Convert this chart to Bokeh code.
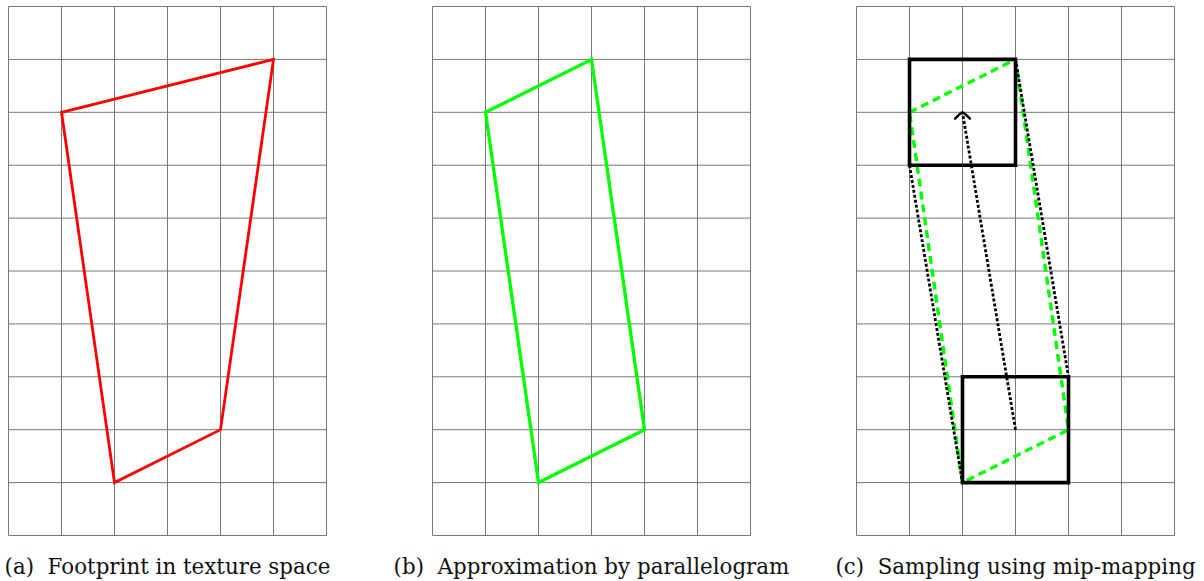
from bokeh.plotting import figure
from bokeh.models import Range1d
from bokeh.core.properties import value
from bokeh.embed import file_html
from bokeh.resources import INLINE

# ---- data (grid units: 6 columns x 10 rows per panel) ----
n_cols = 6
n_rows = 10
panel_offsets = [0, 8, 16]

captions = ["(a)\u00a0\u00a0Footprint in texture space",
            "(b)\u00a0\u00a0Approximation by parallelogram",
            "(c)\u00a0\u00a0Sampling using mip-mapping"]

footprint_x = [1, 5, 4, 2]
footprint_y = [8, 9, 2, 1]

para_x = [1, 3, 4, 2]
para_y = [8, 9, 2, 1]

mip_left = [1, 2]
mip_right = [3, 4]
mip_bottom = [7, 1]
mip_top = [9, 3]

dotted_x = [[1, 2], [3, 4]]
dotted_y = [[7, 1], [9, 3]]

axis_start = (3, 2)
axis_end = (2, 8)

# ---- figure ----
cell_px = 53.0
cell_py = 52.9
W, H = 1204, 581
x0_px, y0_px = 8, 535   # pixel of grid origin (0,0) of first panel

p = figure(width=W, height=H, output_backend="svg", toolbar_location=None,
           x_range=Range1d(-x0_px / cell_px, (W - x0_px) / cell_px),
           y_range=Range1d((y0_px - H) / cell_py, y0_px / cell_py),
           min_border=0, min_border_left=0, min_border_right=0,
           min_border_top=0, min_border_bottom=0)
p.axis.visible = False
p.grid.visible = False
p.outline_line_color = None
p.background_fill_color = "white"
p.border_fill_color = "white"

grid_color = "#777777"
for off in panel_offsets:
    xs = [[off + i, off + i] for i in range(n_cols + 1)]
    ys = [[0, n_rows] for i in range(n_cols + 1)]
    xs += [[off, off + n_cols] for j in range(n_rows + 1)]
    ys += [[j, j] for j in range(n_rows + 1)]
    p.multi_line(xs, ys, line_color=grid_color, line_width=1)

# panel a: footprint
oa = panel_offsets[0]
p.patch([oa + x for x in footprint_x], footprint_y, fill_color=None,
        line_color="#ff0000", line_width=2.8, line_join="miter")

# panel b: parallelogram
ob = panel_offsets[1]
p.patch([ob + x for x in para_x], para_y, fill_color=None,
        line_color="#00ff00", line_width=3.3, line_join="miter")

# panel c: mip-mapping
oc = panel_offsets[2]
p.patch([oc + x for x in para_x], para_y, fill_color=None,
        line_color="#00ff00", line_width=3.4, line_dash="8 5")
p.multi_line([[oc + x for x in xx] for xx in dotted_x], dotted_y,
             line_color="black", line_width=2.8, line_dash="3 2")
p.line([oc + axis_start[0], oc + axis_end[0]], [axis_start[1], axis_end[1]],
       line_color="black", line_width=2.8, line_dash="3 2")
# open arrow head at axis end
hw, hd = 0.14, 0.12
tx, ty = oc + axis_end[0], axis_end[1]
p.line([tx - hw, tx - hw * 0.45, tx, tx + hw * 0.45, tx + hw],
       [ty - hd, ty - hd * 0.35, ty, ty - hd * 0.35, ty - hd],
       line_color="black", line_width=2.5, line_join="round", line_cap="round")
p.quad(left=[oc + v for v in mip_left], right=[oc + v for v in mip_right],
       bottom=mip_bottom, top=mip_top, fill_color=None,
       line_color="black", line_width=3.6, line_join="miter")

# captions
cap_y = (y0_px - 566) / cell_py
p.text(x=[off + n_cols / 2 for off in panel_offsets], y=[cap_y] * 3, text=captions,
       text_font=value("DejaVu Serif"), text_font_size="21.4px",
       text_align="center", text_baseline="alphabetic", text_color="#111111")

open("out.html", "w").write(file_html(p, INLINE))
